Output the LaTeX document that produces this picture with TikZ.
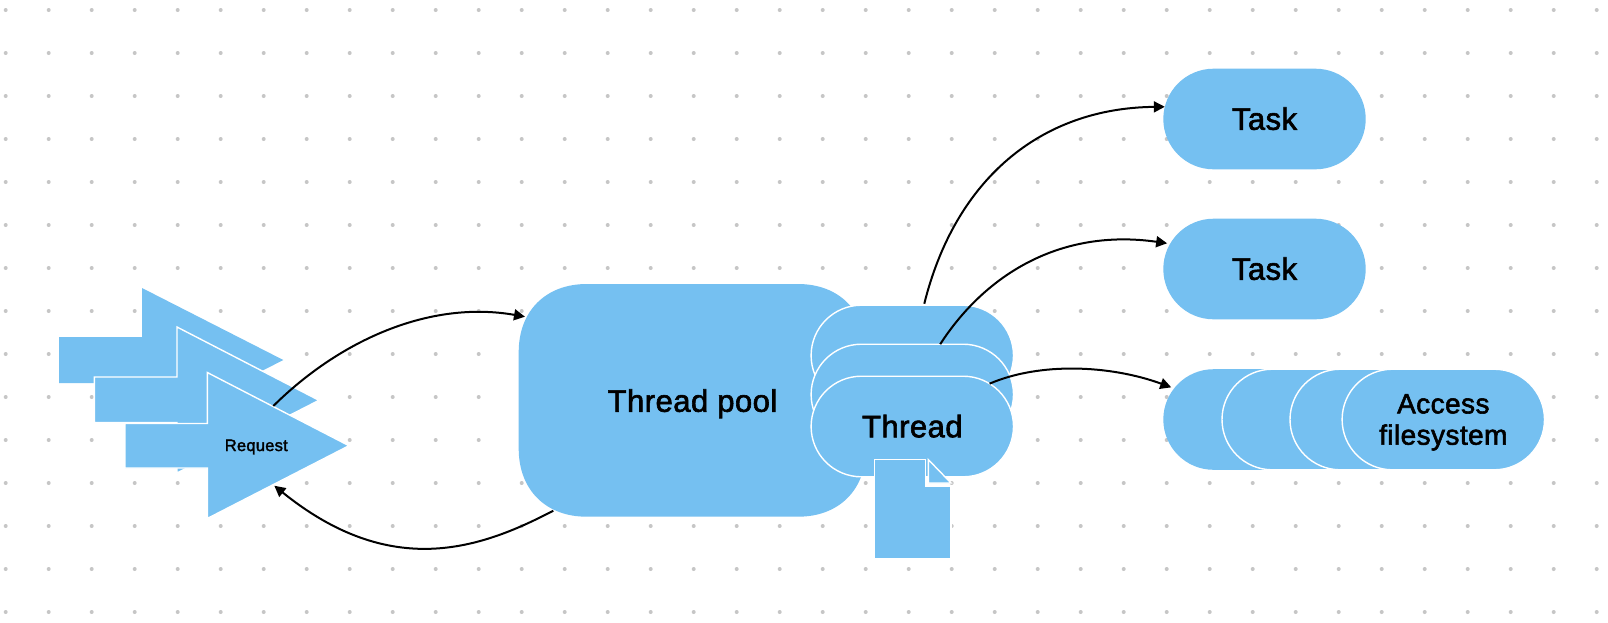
\documentclass[tikz,border=0pt]{standalone}
\usepackage{fontspec}
\setmainfont{Liberation Sans}
\newfontfamily\labelfont{Liberation Sans}[FakeBold=2,LetterSpace=1.5]
\usetikzlibrary{arrows.meta,calc,shapes.misc}
\definecolor{skyfill}{HTML}{75C0F1}
\definecolor{griddot}{HTML}{C6C6C6}
\tikzset{
  x=1pt,y=-1pt,
  griddotmark/.style={fill=griddot,draw=none},
  shapefill/.style={fill=skyfill,draw=none},
  shapeline/.style={fill=skyfill,draw=white,line width=1.4pt,line join=miter},
  labelfontstyle/.style={font=\labelfont\fontsize{31}{34}\selectfont,text height=21.5pt,text depth=0pt},
  pill/.style={shape=rounded rectangle,minimum width=202.4pt,minimum height=100.6pt,inner sep=0pt,outer sep=0pt,text=black},
  plainpill/.style={pill,labelfontstyle,fill=skyfill,draw=none},
  linedpill/.style={pill,labelfontstyle,fill=skyfill,draw=white,line width=1.4pt},
  textonly/.style={inner sep=0pt,outer sep=0pt,text=black},
  conn/.style={draw=black,line width=2pt,-{Triangle[length=11pt,width=11pt]}},
}
\begin{document}
\begin{tikzpicture}
\useasboundingbox (0,0) rectangle (1608,622);
\fill[white] (0,0) rectangle (1608,622);
% dotted canvas
\foreach \ix in {0,...,37}{
  \foreach \iy in {0,...,14}{
    \fill[griddotmark] ({5.7+43*\ix},{10+43*\iy}) circle [radius=2pt];
  }
}
% request arrows
\path[shapefill] (59,337) -- (142,337) -- (142,288) -- (283.3,360) -- (142,432) -- (142,383) -- (59,383) -- cycle;
\path[shapeline] (94.3,377) -- (177,377) -- (177,327) -- (319,400.3) -- (177,473) -- (177,422.5) -- (94.3,422.5) -- cycle;
\path[shapeline] (125,423.5) -- (207.3,423.5) -- (207.3,372.5) -- (349,445.7) -- (207.3,518.5) -- (207.3,468) -- (125,468) -- cycle;
\node[textonly,font=\labelfont\fontsize{16.5}{19}\selectfont,text height=11pt,text depth=0pt] (req) at (256.3,445.5) {Request};
\coordinate (reqOut) at ($(req)+(17,-39.5)$);
\coordinate (reqIn) at ($(req)+(18,40.2)$);
% thread pool
\path[shapefill] (518.7,352) .. controls (518.7,311) and (545.7,284) .. (586.7,284)
  -- (798,284) .. controls (839,284) and (866,311) .. (866,352)
  -- (866,448.7) .. controls (866,489.7) and (839,516.7) .. (798,516.7)
  -- (586.7,516.7) .. controls (545.7,516.7) and (518.7,489.7) .. (518.7,448.7) -- cycle;
\node[textonly,labelfontstyle] (pool) at (692.5,401) {Thread pool};
\coordinate (poolIn) at ($(pool)+(-167.5,-84.3)$);
\coordinate (poolOut) at ($(pool)+(-139.2,109.7)$);
% threads
\node[linedpill] (threadA) at (912.3,355.5) {};
\node[linedpill] (threadB) at (912.3,394.5) {};
\node[linedpill] (threadC) at (912.3,426.5) {Thread};
% document
\path[shapeline] (874.7,459.3) -- (925.7,459.3) -- (925.7,486) -- (951,486) -- (951,558.7) -- (874.7,558.7) -- cycle;
\path[shapeline] (928.3,459.6) -- (951,483) -- (928.3,483) -- cycle;
% tasks
\node[plainpill] (taskA) at (1264.5,119) {Task};
\node[plainpill] (taskB) at (1264.5,269) {Task};
\node[plainpill] (fsA) at (1264.5,419.5) {};
\node[linedpill] (fsB) at (1323.2,419.5) {};
\node[linedpill] (fsC) at (1391.2,419.5) {};
\node[linedpill] (fsD) at (1443.3,419.5) {};
\node[textonly,font=\labelfont\fontsize{28}{31.3}\selectfont,align=center] (fsText) at (1443.3,422.3) {Access\\filesystem};
% connectors
\draw[conn] (reqOut) .. controls (340,340) and (430,300) .. (poolIn);
\draw[conn] (poolOut) .. controls (480,549) and (391,580) .. (reqIn);
\draw[conn,shorten <=1.5pt] (threadA.77) .. controls (955,180) and (1040,108) .. (taskA.173);
\draw[conn,shorten >=3pt] (threadB.61) .. controls (985,275) and (1060,228) .. (taskB.165);
\draw[conn,shorten >=3pt] (threadC.29) .. controls (1040,362) and (1110,365) .. (fsA.161);
\end{tikzpicture}
\end{document}
